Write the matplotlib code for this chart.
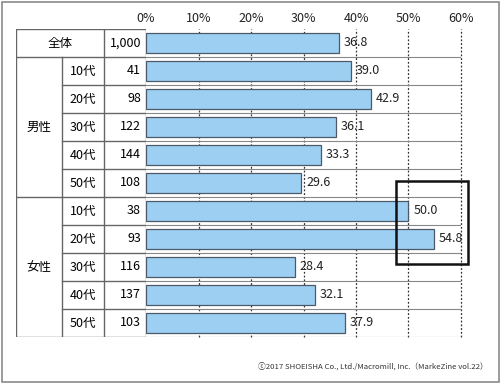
import matplotlib.pyplot as plt
from matplotlib.patches import Rectangle

plt.rcParams['font.family'] = ['Noto Sans CJK JP', 'DejaVu Sans']

groups = ['全体', '男性', '女性']
ages = ['', '10代', '20代', '30代', '40代', '50代', '10代', '20代', '30代', '40代', '50代']
counts = ['1,000', '41', '98', '122', '144', '108', '38', '93', '116', '137', '103']
values = [36.8, 39.0, 42.9, 36.1, 33.3, 29.6, 50.0, 54.8, 28.4, 32.1, 37.9]
xticks = [0, 10, 20, 30, 40, 50, 60]

W, H = 500, 383
fig = plt.figure(figsize=(5, 3.83), dpi=100)

top_px, bot_px = 29, 337
ax = fig.add_axes([146 / W, 1 - bot_px / H, (461 - 146) / W, (bot_px - top_px) / H])
ax_t = fig.add_axes([16 / W, 1 - bot_px / H, (146 - 16) / W, (bot_px - top_px) / H])

rows = list(range(len(values)))
line_c = '#666666'
fs = 9

# bars
ax.barh(rows, values, height=0.68, color='#9dcff2', edgecolor='#4d5966',
        linewidth=0.9, zorder=3)
for r, v in zip(rows, values):
    ax.text(v + 0.9, r, '%.1f' % v, va='center', ha='left', fontsize=fs,
            color='#222222', zorder=4)

ax.set_xlim(0, 60)
ax.set_ylim(len(values) - 0.5, -0.5)
for s in ax.spines.values():
    s.set_visible(False)
ax.set_yticks([])
ax.set_xticks(xticks)
ax.set_xticklabels(['%d%%' % t for t in xticks], fontsize=fs, color='#222222')
ax.xaxis.tick_top()
ax.tick_params(axis='x', length=0, pad=3)
for t in xticks[1:]:
    ax.axvline(t, color='#333333', lw=0.9, ls=(0, (1.5, 1.5)), zorder=1,
               clip_on=False)
for y in [r + 0.5 for r in rows]:
    ax.axhline(y, color='#888888', lw=0.8, zorder=1)

# highlight box
ax.add_patch(Rectangle((47.6, 4.93), 13.7, 2.96, fill=False, edgecolor='#111111',
                       lw=1.8, clip_on=False, zorder=5))

# table
ax_t.set_xlim(16, 146)
ax_t.set_ylim(len(values) - 0.5, -0.5)
ax_t.axis('off')
ax_t.plot([16, 146], [-0.5, -0.5], color=line_c, lw=1)
ax_t.plot([16, 146], [0.5, 0.5], color=line_c, lw=1)
ax_t.plot([16, 146], [5.5, 5.5], color=line_c, lw=1)
ax_t.plot([16, 146], [10.5, 10.5], color=line_c, lw=1)
for y in [1.5, 2.5, 3.5, 4.5, 6.5, 7.5, 8.5, 9.5]:
    ax_t.plot([62, 146], [y, y], color=line_c, lw=1)
for x in [16, 104, 146]:
    ax_t.plot([x, x], [-0.5, 10.5], color=line_c, lw=1)
ax_t.plot([62, 62], [0.5, 10.5], color=line_c, lw=1)

ax_t.text(60, 0, groups[0], ha='center', va='center', fontsize=fs)
ax_t.text(39, 3, groups[1], ha='center', va='center', fontsize=fs)
ax_t.text(39, 8, groups[2], ha='center', va='center', fontsize=fs)
for r in rows:
    if ages[r]:
        ax_t.text(83, r, ages[r], ha='center', va='center', fontsize=fs)
    ax_t.text(141, r, counts[r], ha='right', va='center', fontsize=fs)

# outer frame
fig.add_artist(Rectangle((1.5 / W, 1.5 / H), 1 - 3 / W, 1 - 3 / H, fill=False,
                         edgecolor='#8a8a8a', lw=1.2, transform=fig.transFigure))

fig.text(488 / W, 1 - 366 / H,
         'ⓒ2017 SHOEISHA Co., Ltd./Macromill, Inc.（MarkeZine vol.22）',
         ha='right', va='center', fontsize=5.6, color='#333333')

fig.savefig('out.png', dpi=100)
